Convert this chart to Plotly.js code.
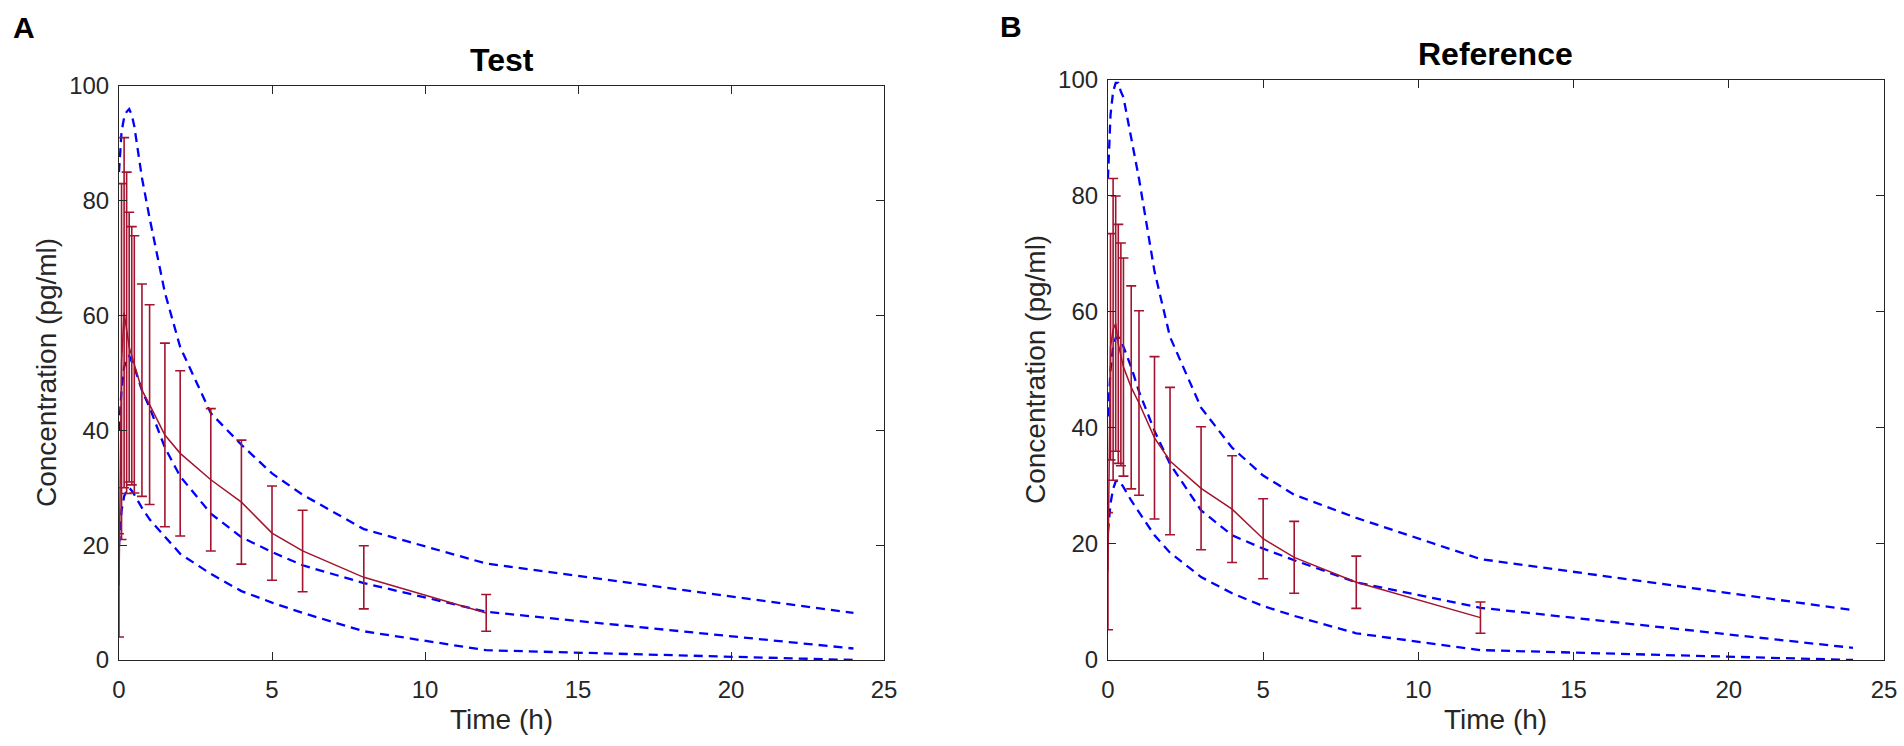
<!DOCTYPE html>
<html>
<head>
<meta charset="utf-8">
<script src="https://cdn.plot.ly/plotly-3.0.1.min.js"></script>
<style>
  html, body { margin: 0; padding: 0; background: #ffffff; }
  #chart { width: 1904px; height: 746px; }
</style>
</head>
<body>
<div id="chart"></div>
<script>
// Concentration-time profiles, Test (A) and Reference (B)

// Sampling times (h) for the observed mean +/- SD
var sampleTimes = [0, 0.083, 0.167, 0.25, 0.333, 0.417, 0.5, 0.75, 1, 1.5, 2, 3, 4, 5, 6, 8, 12];

// Test - observed
var testMean = [13, 52, 60.5, 57, 54.5, 53, 51.5, 47, 44.5, 39.2, 36, 31.4, 27.5, 22.1, 19.0, 14.4, 8.2];
var testSD   = [9, 31, 30.5, 28, 23.5, 22.5, 22.4, 18.5, 17.4, 16, 14.4, 12.4, 10.8, 8.2, 7.1, 5.5, 3.2];

// Reference - observed
var refMean = [15.3, 54, 57, 58, 54.5, 52.7, 50.5, 47, 44.3, 38.3, 34.3, 29.6, 26, 20.9, 17.7, 13.4, 7.3];
var refSD   = [10.1, 19.5, 26, 22, 20.6, 19.2, 18.8, 17.5, 15.9, 14, 12.7, 10.6, 9.2, 6.9, 6.2, 4.5, 2.7];

// Simulated prediction curves (upper, median, lower)
var simTimes = [0, 0.083, 0.167, 0.25, 0.333, 0.417, 0.5, 0.75, 1, 1.5, 2, 3, 4, 5, 6, 8, 12, 24];

var testUpper  = [85, 92, 94.5, 95.5, 96, 95, 93, 84, 77, 64, 54.5, 43, 37.5, 32.5, 28.8, 22.8, 16.8, 8.2];
var testMedian = [40, 47, 51, 52.5, 53, 52, 51, 47, 44, 37, 32, 25.5, 21.4, 18.8, 16.5, 13.4, 8.4, 2.0];
var testLower  = [20, 26, 28.5, 29.5, 30, 29.5, 28.8, 26.5, 24.5, 21.5, 18.5, 15, 12, 10, 8.2, 5, 1.7, 0];

var refUpper  = [83, 94, 98, 99.5, 99.5, 98, 97, 90, 83, 67, 55.7, 43.5, 36.6, 31.8, 28.5, 24.5, 17.4, 8.6];
var refMedian = [42, 50, 54, 55.5, 55.7, 55, 54, 50.5, 46.3, 39.5, 33.8, 25.8, 21.5, 19.2, 17.2, 13.4, 9.0, 2.1];
var refLower  = [22, 27, 29.5, 30.8, 31, 30.5, 29.8, 27.5, 25.5, 21.5, 18.5, 14.3, 11.5, 9.3, 7.6, 4.6, 1.7, 0];

var blue = '#0000ff';
var darkRed = '#a2142f';
var axisColor = '#262626';
var fontFamily = '"Liberation Sans", Arial, Helvetica, sans-serif';

function dashed(x, y, xa, ya) {
  return {
    x: x,
    y: y,
    xaxis: xa,
    yaxis: ya,
    type: 'scatter',
    mode: 'lines',
    hoverinfo: 'none',
    line: { color: blue, width: 2.3, dash: '9px,6px' }
  };
}

function observed(x, y, sd, xa, ya) {
  return {
    x: x,
    y: y,
    xaxis: xa,
    yaxis: ya,
    type: 'scatter',
    mode: 'lines',
    hoverinfo: 'none',
    line: { color: darkRed, width: 1.5 },
    error_y: {
      type: 'data',
      array: sd,
      visible: true,
      color: darkRed,
      thickness: 1.6,
      width: 5
    }
  };
}

var data = [
  dashed(simTimes, testUpper, 'x', 'y'),
  dashed(simTimes, testMedian, 'x', 'y'),
  dashed(simTimes, testLower, 'x', 'y'),
  observed(sampleTimes, testMean, testSD, 'x', 'y'),

  dashed(simTimes, refUpper, 'x2', 'y2'),
  dashed(simTimes, refMedian, 'x2', 'y2'),
  dashed(simTimes, refLower, 'x2', 'y2'),
  observed(sampleTimes, refMean, refSD, 'x2', 'y2')
];

function xAxis(domain, anchor) {
  return {
    domain: domain,
    anchor: anchor,
    range: [0, 25],
    dtick: 5,
    showgrid: false,
    zeroline: false,
    showline: true,
    mirror: 'ticks',
    linecolor: axisColor,
    linewidth: 1,
    ticks: 'inside',
    ticklen: 8,
    tickcolor: axisColor,
    ticklabelstandoff: 8,
    tickfont: { family: fontFamily, size: 24, color: axisColor },
    fixedrange: true
  };
}

function yAxis(domain, anchor) {
  return {
    domain: domain,
    anchor: anchor,
    range: [0, 100],
    dtick: 20,
    showgrid: false,
    zeroline: false,
    showline: true,
    mirror: 'ticks',
    linecolor: axisColor,
    linewidth: 1,
    ticks: 'inside',
    ticklen: 8,
    tickcolor: axisColor,
    ticklabelstandoff: 4,
    tickfont: { family: fontFamily, size: 24, color: axisColor },
    fixedrange: true
  };
}

function label(text, x, y, size, bold, angle, anchor) {
  return {
    text: bold ? '<b>' + text + '</b>' : text,
    xref: 'paper',
    yref: 'paper',
    x: x,
    y: y,
    xanchor: anchor || 'center',
    yanchor: 'middle',
    showarrow: false,
    textangle: angle || 0,
    font: { family: fontFamily, size: size, color: bold ? '#000000' : axisColor }
  };
}

var layout = {
  width: 1904,
  height: 746,
  showlegend: false,
  paper_bgcolor: '#ffffff',
  plot_bgcolor: '#ffffff',
  margin: { l: 0, r: 0, t: 0, b: 0 },
  font: { family: fontFamily, color: axisColor },

  xaxis: xAxis([0.0625, 0.4643], 'y'),
  yaxis: yAxis([0.1153, 0.8847], 'x'),
  xaxis2: xAxis([0.5819, 0.9895], 'y2'),
  yaxis2: yAxis([0.1153, 0.8928], 'x2'),

  annotations: [
    // panel letters
    label('A', 0.0058, 0.9638, 30, true, 0, 'left'),
    label('B', 0.5242, 0.9651, 30, true, 0, 'left'),

    // panel titles
    label('Test', 0.2634, 0.9196, 32, true),
    label('Reference', 0.7857, 0.9276, 32, true),

    // axis titles
    label('Time (h)', 0.2634, 0.036, 28),
    label('Time (h)', 0.7857, 0.036, 28),
    label('Concentration (pg/ml)', 0.0242, 0.5, 28, false, -90),
    label('Concentration (pg/ml)', 0.5436, 0.504, 28, false, -90)
  ]
};

Plotly.newPlot('chart', data, layout, {
  displayModeBar: false,
  staticPlot: true
});
</script>
</body>
</html>
